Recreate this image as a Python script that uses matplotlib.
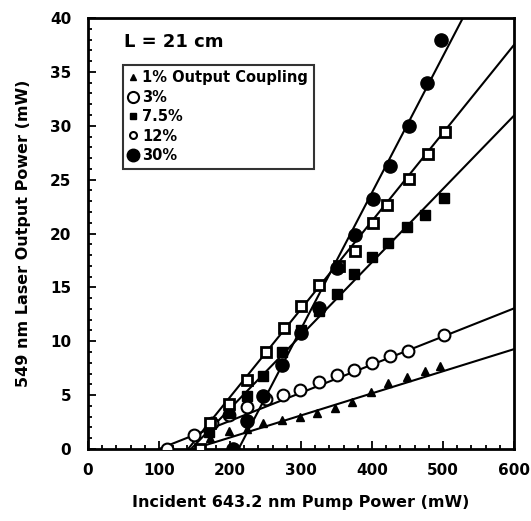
import matplotlib
matplotlib.use("Agg")
import matplotlib.pyplot as plt
from matplotlib.lines import Line2D
from matplotlib.ticker import MultipleLocator
import numpy as np

plt.rcParams['font.family'] = ['DejaVu Sans']
plt.rcParams['font.weight'] = 'bold'

# ---- data ----
x_1 = [172, 198, 224, 247, 273, 299, 322, 348, 372, 398, 423, 449, 475, 496]
y_1 = [1.0, 1.7, 1.9, 2.4, 2.7, 3.0, 3.3, 3.8, 4.4, 5.3, 6.1, 6.7, 7.2, 7.7]

x_3 = [111, 149, 174, 198, 224, 250, 275, 299, 325, 351, 374, 400, 425, 450, 502]
y_3 = [0.0, 1.3, 2.4, 3.2, 3.9, 4.6, 5.0, 5.5, 6.2, 6.9, 7.3, 7.95, 8.6, 9.1, 10.6]

x_75 = [170, 198, 224, 247, 273, 300, 325, 351, 375, 400, 423, 449, 475, 501]
y_75 = [1.6, 3.3, 4.9, 6.8, 9.0, 11.0, 12.8, 14.4, 16.2, 17.8, 19.1, 20.6, 21.7, 23.3]

x_12 = [158, 172, 198, 224, 250, 276, 300, 325, 353, 376, 401, 421, 452, 479, 503]
y_12 = [0.0, 2.45, 4.2, 6.4, 9.0, 11.2, 13.3, 15.2, 17.0, 18.4, 21.0, 22.6, 25.1, 27.4, 29.4]

x_30 = [204, 224, 247, 273, 300, 326, 350, 376, 401, 426, 452, 477, 497]
y_30 = [0.0, 2.6, 4.9, 7.8, 10.8, 13.1, 16.8, 19.9, 23.2, 26.3, 30.0, 34.0, 38.0]

# linear fits: slope (mW/mW) and threshold (mW)
fit_labels = ['1%', '3%', '7.5%', '12%', '30%']
fit_slope = [0.0205, 0.0261, 0.068, 0.0817, 0.1266]
fit_threshold = [148, 100, 145, 141, 212]

x_ticks = [0, 100, 200, 300, 400, 500, 600]
y_ticks = [0, 5, 10, 15, 20, 25, 30, 35, 40]

fig = plt.figure(figsize=(5.31, 5.21), dpi=100)
ax = fig.add_axes([88/531, 1-449/521, (514-88)/531, (449-18)/521])

# fit lines
for s, t in zip(fit_slope, fit_threshold):
    xx = np.array([t, 620.0])
    ax.plot(xx, s*(xx - t), color='black', lw=1.5, zorder=2)

mk = dict(linestyle='none', zorder=3)
ax.plot(x_1, y_1, marker='^', ms=6, color='black', **mk)
ax.plot(x_3, y_3, marker='o', ms=8.5, mfc='white', mec='black', mew=1.5, **mk)
ax.plot(x_75, y_75, marker='s', ms=6.5, color='black', **mk)
ax.plot(x_12, y_12, marker='s', ms=6.5, mfc='white', mec='black', mew=2, **mk)
ax.plot(x_30, y_30, marker='o', ms=9.5, color='black', **mk)

ax.set_xlim(0, 600)
ax.set_ylim(0, 40)
ax.set_xticks(x_ticks)
ax.set_yticks(y_ticks)
ax.xaxis.set_minor_locator(MultipleLocator(20))
ax.yaxis.set_minor_locator(MultipleLocator(1))
ax.tick_params(which='both', direction='in', top=False, right=False, width=1.3)
ax.tick_params(which='major', length=6, labelsize=11)
ax.tick_params(axis='x', which='major', pad=10)
ax.tick_params(axis='y', which='major', pad=12)
ax.tick_params(which='minor', length=3)
for lab in ax.get_xticklabels() + ax.get_yticklabels():
    lab.set_fontweight('bold')
for sp in ax.spines.values():
    sp.set_linewidth(2)

ax.set_xlabel('Incident 643.2 nm Pump Power (mW)', fontsize=11.5, fontweight='bold', labelpad=12)
ax.set_ylabel('549 nm Laser Output Power (mW)', fontsize=11.5, fontweight='bold', labelpad=14)

ax.text(0.085, 0.945, 'L = 21 cm', transform=ax.transAxes, fontsize=13,
        fontweight='bold', va='center', ha='left')

handles = [
    Line2D([], [], marker='^', ms=5, color='black', ls='none'),
    Line2D([], [], marker='o', ms=8, mfc='white', mec='black', mew=1.5, ls='none'),
    Line2D([], [], marker='s', ms=5, color='black', ls='none'),
    Line2D([], [], marker='o', ms=5, mfc='white', mec='black', mew=1.5, ls='none'),
    Line2D([], [], marker='o', ms=9, color='black', ls='none'),
]
labels = ['1% Output Coupling', '3%', '7.5%', '12%', '30%']
leg = ax.legend(handles, labels, loc='upper left', bbox_to_anchor=(0.082, 0.892),
                frameon=True, fancybox=False, edgecolor='black',
                handlelength=0.6, handletextpad=0.3, labelspacing=0.3,
                borderpad=0.4, borderaxespad=0, prop={'weight': 'bold', 'size': 10.5})
leg.get_frame().set_linewidth(1.5)

fig.savefig('out.png', dpi=100)
